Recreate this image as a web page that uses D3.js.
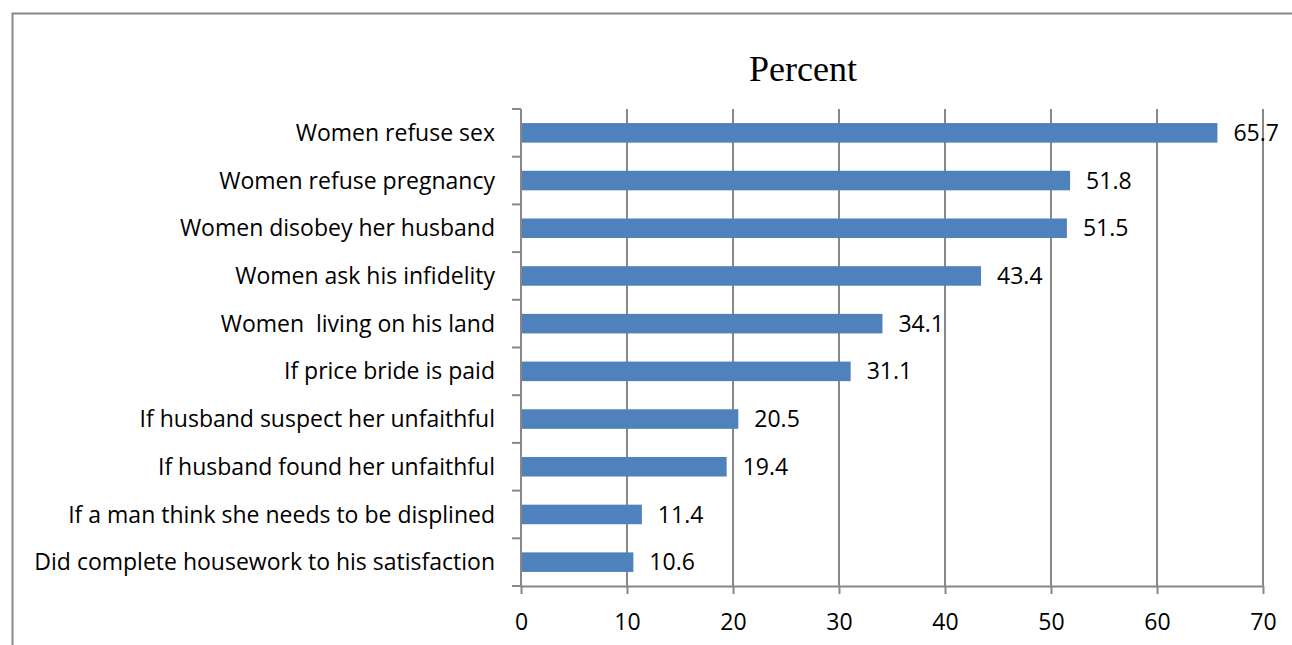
<!DOCTYPE html>
<html>
<head>
<meta charset="utf-8">
<script src="https://cdn.jsdelivr.net/npm/d3@7"></script>
<style>
  body { margin: 0; background: #fff; }
  svg text { font-family: "Open Sans", Lato, sans-serif; }
</style>
</head>
<body>
<div id="chart"></div>
<script>
// categories, top to bottom
var categories = [
  "Women refuse sex",
  "Women refuse pregnancy",
  "Women disobey her husband",
  "Women ask his infidelity",
  "Women  living on his land",
  "If price bride is paid",
  "If husband suspect her unfaithful",
  "If husband found her unfaithful",
  "If a man think she needs to be displined",
  "Did complete housework to his satisfaction"
];
var percent = [65.7, 51.8, 51.5, 43.4, 34.1, 31.1, 20.5, 19.4, 11.4, 10.6];
var xTicks = [0, 10, 20, 30, 40, 50, 60, 70];
var chartTitle = "Percent";

var W = 1292, H = 645;
var margin = {left: 521, right: 29, top: 109, bottom: 59};
var fs = 23;

var svg = d3.select("#chart").append("svg")
  .attr("width", W).attr("height", H);

// outer frame
svg.append("rect")
  .attr("x", 12.5).attr("y", 13.5)
  .attr("width", W + 20).attr("height", H + 20)
  .attr("fill", "none").attr("stroke", "#888").attr("stroke-width", 2);

var x = d3.scaleLinear().domain([0, 70]).range([margin.left, W - margin.right]);
var y = d3.scaleBand().domain(categories)
  .range([margin.top, H - margin.bottom]).paddingInner(0.59).paddingOuter(0.295);
var yb = d3.scaleBand().domain(categories).range([margin.top, H - margin.bottom]);

// gridlines
svg.append("g").selectAll("line").data(xTicks.slice(1)).enter().append("line")
  .attr("x1", function(d){ return x(d); }).attr("x2", function(d){ return x(d); })
  .attr("y1", margin.top).attr("y2", H - margin.bottom)
  .attr("stroke", "#888").attr("stroke-width", 2);

// bars
svg.append("g").selectAll("rect").data(percent).enter().append("rect")
  .attr("x", x(0))
  .attr("y", function(d, i){ return y(categories[i]); })
  .attr("width", function(d){ return x(d) - x(0); })
  .attr("height", y.bandwidth())
  .attr("fill", "#4f81bd");

// value labels
svg.append("g").selectAll("text").data(percent).enter().append("text")
  .attr("x", function(d){ return x(d) + 16; })
  .attr("y", function(d, i){ return y(categories[i]) + y.bandwidth() / 2; })
  .attr("dy", "0.35em")
  .attr("font-size", fs)
  .text(function(d){ return d.toFixed(1); });

// x axis
var xAxis = svg.append("g")
  .attr("transform", "translate(0," + (H - margin.bottom) + ")")
  .call(d3.axisBottom(x).tickValues(xTicks).tickSize(8).tickPadding(20).tickSizeOuter(0));
xAxis.select(".domain").attr("stroke", "#888").attr("stroke-width", 2);
xAxis.selectAll(".tick line").attr("stroke", "#888").attr("stroke-width", 2);
xAxis.selectAll("text").attr("font-size", fs).attr("fill", "#000")
  .style("font-family", "'Open Sans', Lato, sans-serif");

// y axis with ticks between categories
var yAxis = svg.append("g").attr("transform", "translate(" + margin.left + ",0)");
yAxis.append("line")
  .attr("x1", 0).attr("x2", 0)
  .attr("y1", margin.top).attr("y2", H - margin.bottom)
  .attr("stroke", "#888").attr("stroke-width", 2);
var edges = categories.map(function(c){ return yb(c); }).concat([H - margin.bottom]);
yAxis.selectAll("line.tk").data(edges).enter().append("line").attr("class", "tk")
  .attr("x1", -9).attr("x2", 0)
  .attr("y1", function(d){ return d; }).attr("y2", function(d){ return d; })
  .attr("stroke", "#888").attr("stroke-width", 2);
yAxis.selectAll("text").data(categories).enter().append("text")
  .attr("x", -26)
  .attr("y", function(d){ return yb(d) + yb.bandwidth() / 2; })
  .attr("dy", "0.35em")
  .attr("text-anchor", "end")
  .attr("font-size", fs)
  .style("white-space", "pre")
  .text(function(d){ return d; });

// title
svg.append("text")
  .attr("x", 803).attr("y", 81)
  .attr("text-anchor", "middle")
  .attr("font-size", 36)
  .style("font-family", "'Liberation Serif', 'DejaVu Serif', serif")
  .text(chartTitle);
</script>
</body>
</html>
